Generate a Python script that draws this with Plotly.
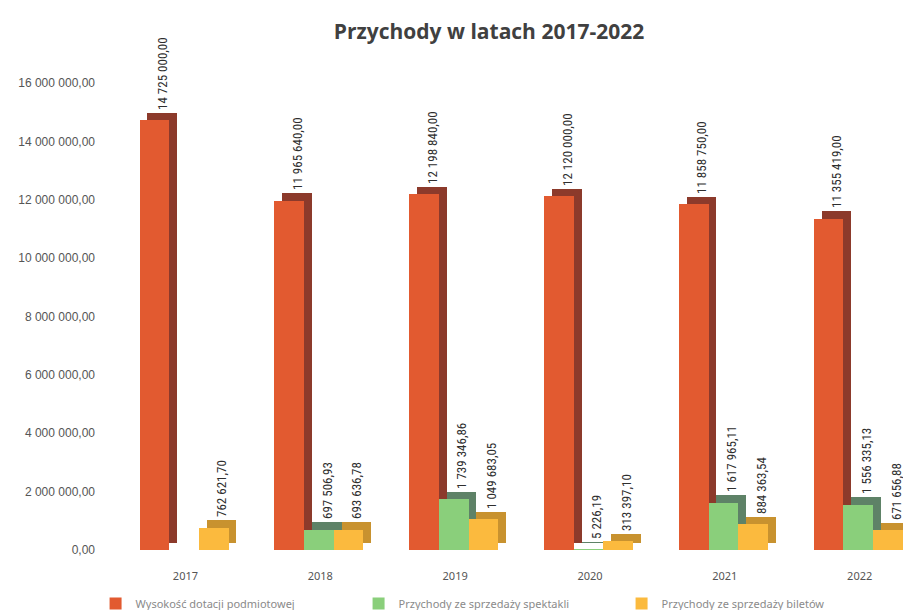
import plotly.graph_objects as go

years = ["2017", "2018", "2019", "2020", "2021", "2022"]
dotacja = [14725000.00, 11965640.00, 12198840.00, 12120000.00, 11858750.00, 11355419.00]
spektakle = [None, 697506.93, 1739346.86, 5226.19, 1617965.11, 1556335.13]
bilety = [762621.70, 693636.78, 1049683.05, 313397.10, 884363.54, 671656.88]

series_names = ["Wysokość dotacji podmiotowej", "Przychody ze sprzedaży spektakli", "Przychody ze sprzedaży biletów"]
y_ticks = [0, 2e6, 4e6, 6e6, 8e6, 10e6, 12e6, 14e6, 16e6]


def fmt(v):
    if v is None:
        return ""
    return f"{v:,.2f}".replace(",", " ").replace(".", ",")


front_colors = ["#E25A30", "#8ACF7B", "#FBBA3E"]
side_colors = ["#8C3A2B", "#5E8267", "#C8922F"]
offsets = [-0.34, -0.12, 0.10]
width = 0.22
dx = 0.058
dy = 250000

data = [dotacja, spektakle, bilety]
fig = go.Figure()

# depth (side/top faces) carrying the value labels above the top face
for vals, col, off in zip(data, side_colors, offsets):
    fig.add_trace(go.Bar(
        x=years, y=vals, base=dy, offset=off + dx, width=width,
        marker=dict(color=col, line=dict(width=0)),
        text=[fmt(v) for v in vals], textposition="outside", textangle=-90,
        constraintext="none",
        textfont=dict(family="Liberation Sans Narrow, Roboto Condensed, Liberation Sans, Arial", size=13, color="#2e2e2e"),
        cliponaxis=False,
        showlegend=False, hoverinfo="skip",
    ))

# front faces
for vals, col, off, name in zip(data, front_colors, offsets, series_names):
    fig.add_trace(go.Bar(
        x=years, y=vals, offset=off, width=width, name=name,
        marker=dict(color=col, line=dict(width=0)),
        cliponaxis=False,
    ))

fig.update_layout(
    width=911, height=610,
    barmode="overlay",
    plot_bgcolor="white", paper_bgcolor="white",
    margin=dict(l=110, r=0, t=75, b=63),
    title=dict(text="<b>Przychody w latach 2017-2022</b>", x=0.528, xref="container", xanchor="center",
               y=0.962, yref="container", yanchor="middle",
               font=dict(family="Open Sans, Noto Sans, sans-serif", size=21, color="#404040")),
    xaxis=dict(type="category", range=[-0.5, 5.44], showgrid=False, zeroline=False, showline=False,
               ticks="", ticklabelstandoff=18,
               tickfont=dict(family="Noto Sans, sans-serif", size=11, color="#555555")),
    yaxis=dict(range=[0, 16e6], tickvals=y_ticks, ticktext=[fmt(v) for v in y_ticks],
               showgrid=False, zeroline=False, showline=False, ticks="", ticklabelstandoff=22,
               tickfont=dict(family="Liberation Sans Narrow, Liberation Sans, sans-serif", size=12, color="#555555")),
    legend=dict(orientation="h", x=-0.028, xanchor="left", y=-0.115, yanchor="middle",
                entrywidth=218, entrywidthmode="pixels",
                font=dict(family="Noto Sans, sans-serif", size=11, color="#8a8a8a"),
                itemsizing="constant"),
    bargap=0,
)

fig.write_html("out.html")
